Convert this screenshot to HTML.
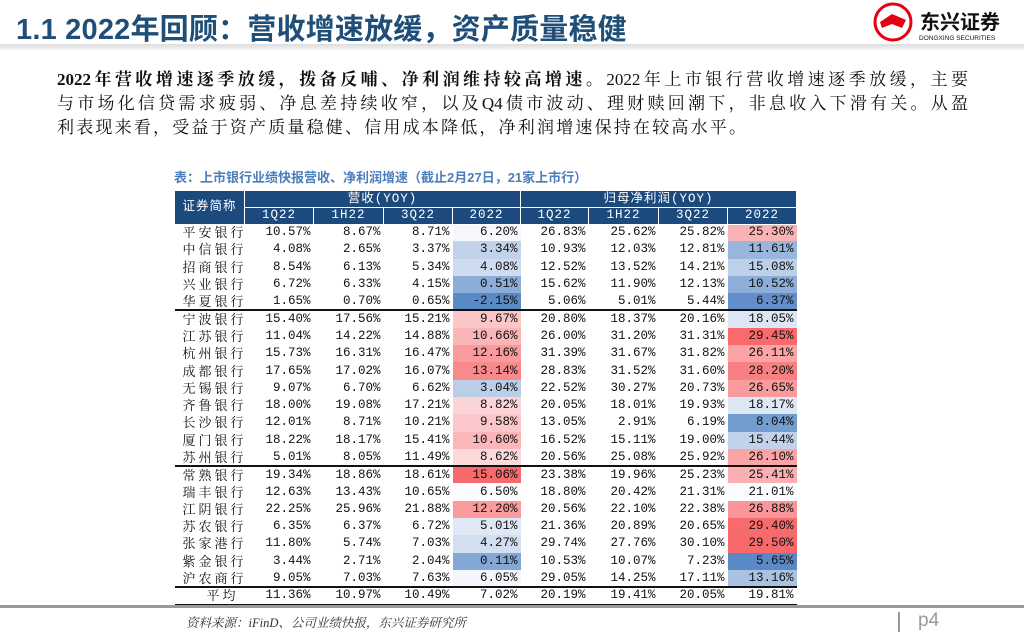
<!DOCTYPE html>
<html><head><meta charset="utf-8">
<style>
*{margin:0;padding:0;box-sizing:border-box}
body{width:1024px;height:640px;background:#fff;position:relative;overflow:hidden;font-family:"Liberation Sans","Noto Sans CJK SC",sans-serif}
.abs{position:absolute}
#title{left:16px;top:6px;font-size:29px;font-weight:bold;color:#1f4e79;letter-spacing:0.2px;white-space:nowrap;font-family:"Liberation Sans","Noto Sans CJK SC",sans-serif}
#band{left:0;top:44px;width:1024px;height:6px;background:linear-gradient(#dcdcdc,#f4f4f4)}
#para{left:57px;top:68px;width:911px;font-size:17px;line-height:24px;color:#111;font-family:"Liberation Serif","Noto Serif CJK SC",serif}
#para div{text-align:justify;text-align-last:justify;white-space:nowrap}
#para div.last{text-align-last:left;letter-spacing:2.2px}
#caption{left:174px;top:167px;font-size:13px;font-weight:bold;color:#4a7ebb;white-space:nowrap}
table{position:absolute;left:174px;top:191px;border-collapse:collapse;table-layout:fixed;width:622px;font-family:"Liberation Mono","Noto Sans CJK SC",monospace;font-size:12.5px}
th{background:#1c4a7c;color:#fff;font-weight:normal;height:16.5px;line-height:15px;padding:0;border:1px solid #fff;border-top:none;font-size:12.5px;letter-spacing:1px}
td{height:17.3px;padding:0 3px 0 0;text-align:right;color:#111;white-space:nowrap;line-height:15px}
td.nm{text-align:left;padding-left:8px;letter-spacing:3px;font-family:"Liberation Serif","Noto Serif CJK SC",serif;font-size:13px}
tr.sep td{border-bottom:2px solid #111}
#foot{left:0;top:605px;width:1024px;height:3px;background:#999}
#src{left:186px;top:613px;font-size:12.5px;font-style:italic;color:#333;font-family:"Liberation Serif","Noto Serif CJK SC",serif}
#pg{left:918px;top:610px;font-size:19px;color:#999}
#bar{left:898px;top:612px;width:2px;height:20px;background:#999}
</style></head><body>
<div class="abs" id="title">1.1 2022年回顾：营收增速放缓，资产质量稳健</div>
<div class="abs" id="band"></div>
<svg class="abs" style="left:872px;top:2px" width="150" height="42">
<circle cx="21" cy="20" r="18" fill="none" stroke="#e60012" stroke-width="3"/>
<path d="M8 20 L20 12 L34 18 L30 26 L20 22 L10 26 Z" fill="#e60012"/>
<text x="48" y="27" font-size="20" font-weight="bold" fill="#111" font-family="Noto Sans CJK SC,sans-serif">东兴证券</text>
<text x="47" y="38" font-size="6.5" fill="#111" font-family="Liberation Sans,sans-serif">DONGXING SECURITIES</text>
</svg>
<div class="abs" id="para">
<div><b>2022年营收增速逐季放缓，拨备反哺、净利润维持较高增速。</b>2022年上市银行营收增速逐季放缓，主要</div>
<div>与市场化信贷需求疲弱、净息差持续收窄，以及Q4债市波动、理财赎回潮下，非息收入下滑有关。从盈</div>
<div class="last">利表现来看，受益于资产质量稳健、信用成本降低，净利润增速保持在较高水平。</div>
</div>
<div class="abs" id="caption">表：上市银行业绩快报营收、净利润增速（截止2月27日，21家上市行）</div>
<table id="tbl">
<colgroup><col style="width:70px"><col style="width:69px"><col style="width:70px"><col style="width:69px"><col style="width:68px"><col style="width:68px"><col style="width:70px"><col style="width:69px"><col style="width:69px"></colgroup>
<thead>
<tr><th rowspan="2">证券简称</th><th colspan="4">营收(YOY)</th><th colspan="4">归母净利润(YOY)</th></tr>
<tr id="hdr2"></tr>
</thead>
<tbody id="tb"></tbody>
</table>
<div class="abs" id="foot"></div>
<div class="abs" id="src">资料来源：iFinD、公司业绩快报，东兴证券研究所</div>
<div class="abs" id="bar"></div>
<div class="abs" id="pg">p4</div>
<script>
const periods=["1Q22","1H22","3Q22","2022"];
const banks=["平安银行","中信银行","招商银行","兴业银行","华夏银行","宁波银行","江苏银行","杭州银行","成都银行","无锡银行","齐鲁银行","长沙银行","厦门银行","苏州银行","常熟银行","瑞丰银行","江阴银行","苏农银行","张家港行","紫金银行","沪农商行"];
const revenue=[[10.57,8.67,8.71,6.20],[4.08,2.65,3.37,3.34],[8.54,6.13,5.34,4.08],[6.72,6.33,4.15,0.51],[1.65,0.70,0.65,-2.15],[15.40,17.56,15.21,9.67],[11.04,14.22,14.88,10.66],[15.73,16.31,16.47,12.16],[17.65,17.02,16.07,13.14],[9.07,6.70,6.62,3.04],[18.00,19.08,17.21,8.82],[12.01,8.71,10.21,9.58],[18.22,18.17,15.41,10.60],[5.01,8.05,11.49,8.62],[19.34,18.86,18.61,15.06],[12.63,13.43,10.65,6.50],[22.25,25.96,21.88,12.20],[6.35,6.37,6.72,5.01],[11.80,5.74,7.03,4.27],[3.44,2.71,2.04,0.11],[9.05,7.03,7.63,6.05]];
const profit=[[26.83,25.62,25.82,25.30],[10.93,12.03,12.81,11.61],[12.52,13.52,14.21,15.08],[15.62,11.90,12.13,10.52],[5.06,5.01,5.44,6.37],[20.80,18.37,20.16,18.05],[26.00,31.20,31.31,29.45],[31.39,31.67,31.82,26.11],[28.83,31.52,31.60,28.20],[22.52,30.27,20.73,26.65],[20.05,18.01,19.93,18.17],[13.05,2.91,6.19,8.04],[16.52,15.11,19.00,15.44],[20.56,25.08,25.92,26.10],[23.38,19.96,25.23,25.41],[18.80,20.42,21.31,21.01],[20.56,22.10,22.38,26.88],[21.36,20.89,20.65,29.40],[29.74,27.76,30.10,29.50],[10.53,10.07,7.23,5.65],[29.05,14.25,17.11,13.16]];
const avgRevenue=[11.36,10.97,10.49,7.02];
const avgProfit=[20.19,19.41,20.05,19.81];
const sepAfter=[4,13,20];

function scaleFn(vals){
  const s=[...vals].sort((a,b)=>a-b);
  const mn=s[0],mx=s[s.length-1],md=s[Math.floor(s.length/2)];
  const mix=(a,b,t)=>a.map((x,i)=>Math.round(x+(b[i]-x)*t));
  const W=[252,252,255],R=[248,105,107],B=[90,138,198];
  return v=>{let c=v>=md?mix(W,R,(v-md)/(mx-md||1)):mix(W,B,(md-v)/(md-mn||1));return`rgb(${c.join(',')})`;};
}
const rScale=scaleFn(revenue.map(r=>r[3]));
const pScale=scaleFn(profit.map(r=>r[3]));
const fmt=v=>v.toFixed(2)+"%";

const h2=document.getElementById('hdr2');
for(let g=0;g<2;g++)periods.forEach(p=>{
  const th=document.createElement('th');th.textContent=p;
  
  
  h2.appendChild(th);
});
const tb=document.getElementById('tb');
function addRow(name,rv,pv,colored,isAvg,sep){
  const tr=document.createElement('tr');
  
  
  if(sep)tr.className='sep';
  const n=document.createElement('td');n.className='nm';n.textContent=name;
  if(isAvg){n.style.textAlign='right';n.style.paddingRight='6px';}
  
  
  tr.appendChild(n);
  [[rv,rScale],[pv,pScale]].forEach(([vals,sc])=>vals.forEach((v,i)=>{
    const td=document.createElement('td');td.textContent=fmt(v);
    
    
    if(colored&&i===3)td.style.background=sc(v);
    tr.appendChild(td);
  }));
  tb.appendChild(tr);
}
banks.forEach((b,i)=>addRow(b,revenue[i],profit[i],true,false,sepAfter.includes(i)));
addRow("平均",avgRevenue,avgProfit,false,true,true);
</script>
</body></html>
